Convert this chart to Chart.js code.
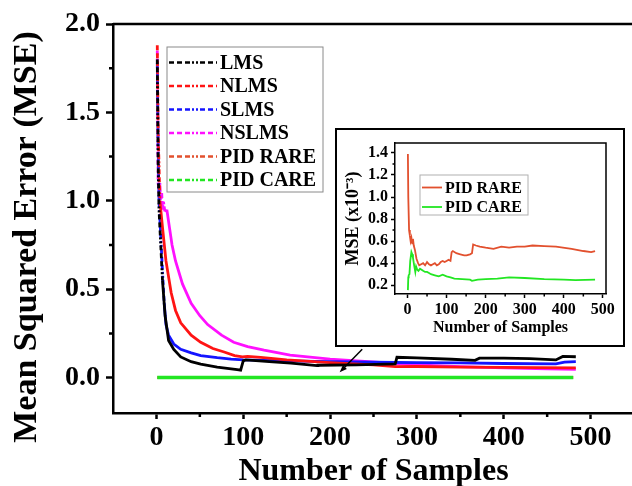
<!DOCTYPE html>
<html>
<head>
<meta charset="utf-8">
<script src="https://cdn.jsdelivr.net/npm/chart.js@4.4.0/dist/chart.umd.min.js"></script>
<style>
  html, body { margin: 0; padding: 0; background: #fff; overflow: hidden; }
  #main  { position: absolute; left: 0; top: 0; width: 640px; height: 486px; }
  #inset { position: absolute; left: 335px; top: 128px; width: 286px; height: 215px;
           border: 2px solid #000; background: #fff; }
</style>
</head>
<body>
<div id="main"><canvas id="main-chart"></canvas></div>
<div id="inset"><canvas id="inset-chart"></canvas></div>
<script>
'use strict';

const SERIF = "'Liberation Serif', 'Times New Roman', serif";

// Main plot series (MSE vs number of samples)
const lmsX = [1, 2, 3, 5, 7, 10, 14, 20, 28, 40, 51, 70, 93, 97, 100, 103, 130, 155, 185, 186, 230, 275, 277, 300, 340, 367, 372, 400, 430, 460, 468, 483];
const lmsY = [1.80, 1.20, 0.95, 0.75, 0.55, 0.35, 0.21, 0.16, 0.117, 0.09, 0.076, 0.06, 0.045, 0.042, 0.095, 0.10, 0.09, 0.082, 0.068, 0.07, 0.072, 0.078, 0.115, 0.112, 0.104, 0.098, 0.11, 0.11, 0.108, 0.10, 0.12, 0.118];

const nlmsX = [1, 2, 4, 7, 11, 17, 22, 28, 40, 51, 65, 78, 90, 99, 105, 120, 150, 200, 250, 275, 300, 350, 400, 483];
const nlmsY = [1.88, 1.40, 1.00, 0.85, 0.66, 0.48, 0.38, 0.31, 0.24, 0.20, 0.165, 0.145, 0.125, 0.117, 0.12, 0.114, 0.10, 0.085, 0.072, 0.062, 0.063, 0.06, 0.058, 0.055];

const slmsX = [1, 2, 3, 5, 7, 9, 11, 14, 20, 28, 40, 51, 70, 86, 100, 150, 200, 250, 300, 350, 400, 460, 470, 483];
const slmsY = [1.78, 1.30, 1.00, 0.80, 0.60, 0.42, 0.30, 0.24, 0.19, 0.16, 0.14, 0.125, 0.113, 0.105, 0.10, 0.095, 0.09, 0.087, 0.085, 0.083, 0.08, 0.078, 0.088, 0.09];

const nslmsX = [1, 2, 3, 4, 5, 6, 7, 8, 10, 12, 15, 18, 22, 30, 40, 50, 59, 75, 89, 105, 124, 154, 200, 231, 275, 300, 350, 400, 450, 483];
const nslmsY = [1.85, 1.10, 1.05, 1.10, 0.98, 1.05, 0.95, 1.00, 0.93, 0.95, 0.85, 0.75, 0.66, 0.53, 0.42, 0.35, 0.30, 0.24, 0.20, 0.175, 0.155, 0.127, 0.105, 0.095, 0.08, 0.072, 0.062, 0.055, 0.05, 0.047];

// PID series, in units of 1e-3 (inset scale)
const rareX = [1, 2, 4, 6, 8, 10, 12, 14, 16, 19, 23, 27, 30, 35, 40, 45, 50, 55, 60, 65, 70, 75, 80, 85, 90, 95, 100, 105, 110, 113, 116, 125, 135, 145, 151, 160, 165, 168, 175, 185, 200, 220, 240, 260, 280, 300, 320, 350, 380, 420, 450, 470, 480];
const rareY = [1.39, 1.00, 0.70, 0.65, 0.60, 0.63, 0.58, 0.62, 0.56, 0.52, 0.44, 0.40, 0.38, 0.39, 0.40, 0.38, 0.41, 0.39, 0.38, 0.39, 0.40, 0.38, 0.39, 0.41, 0.42, 0.41, 0.42, 0.43, 0.42, 0.50, 0.51, 0.49, 0.48, 0.47, 0.47, 0.48, 0.49, 0.57, 0.56, 0.55, 0.54, 0.53, 0.55, 0.54, 0.55, 0.55, 0.56, 0.555, 0.55, 0.53, 0.51, 0.50, 0.51];

const careX = [1, 2, 3, 5, 7, 10, 12, 14, 17, 20, 22, 25, 28, 32, 36, 40, 45, 50, 55, 60, 70, 80, 90, 100, 110, 120, 140, 160, 165, 180, 200, 230, 260, 300, 350, 400, 430, 480];
const careY = [0.155, 0.27, 0.29, 0.30, 0.42, 0.50, 0.48, 0.45, 0.38, 0.32, 0.37, 0.34, 0.33, 0.35, 0.34, 0.33, 0.32, 0.32, 0.31, 0.30, 0.29, 0.28, 0.295, 0.28, 0.27, 0.26, 0.255, 0.25, 0.24, 0.25, 0.255, 0.26, 0.27, 0.265, 0.255, 0.25, 0.245, 0.25];

const mainXTicks  = [0, 100, 200, 300, 400, 500];
const mainYTicks  = [0, 0.5, 1.0, 1.5, 2.0];
const insetXTicks = [0, 100, 200, 300, 400, 500];
const insetYTicks = [0.2, 0.4, 0.6, 0.8, 1.0, 1.2, 1.4];

const COLORS = {
  lms:   '#000000',
  nlms:  '#ff1414',
  slms:  '#1414ff',
  nslms: '#ff10ff',
  rare:  '#e2502e',
  care:  '#22e622',
};

// Origin-style dash-dot-dot, used on the steep start and in the legend
const DASH_DOT = [5, 3, 5, 3, 5, 2, 2, 2, 2, 2];

function pts(xs, ys, k = 1) {
  return xs.map((x, i) => ({ x, y: ys[i] * k }));
}

function fixedTicks(values) {
  return scale => { scale.ticks = values.map(v => ({ value: v })); };
}

// frame on top/right + minor tick marks
const frameTicks = {
  id: 'frameTicks',
  afterDraw(chart, args, o) {
    const { ctx, chartArea: a, scales: { x, y } } = chart;
    ctx.save();
    ctx.strokeStyle = '#000';
    ctx.lineWidth = o.width;
    ctx.beginPath();
    ctx.moveTo(a.left, a.top);
    ctx.lineTo(a.right, a.top);
    ctx.lineTo(a.right, a.bottom);
    ctx.stroke();
    ctx.lineWidth = o.tickWidth;
    ctx.beginPath();
    o.minorX.forEach(v => {
      const px = x.getPixelForValue(v);
      ctx.moveTo(px, a.bottom);
      ctx.lineTo(px, a.bottom + o.minorLen);
    });
    o.minorY.forEach(v => {
      const py = y.getPixelForValue(v);
      ctx.moveTo(a.left, py);
      ctx.lineTo(a.left - o.minorLen, py);
    });
    ctx.stroke();
    ctx.restore();
  },
};

// y title drawn by hand so it can sit lower than the axis centre, as in the original
const yTitle = {
  id: 'yTitle',
  afterDraw(chart, args, o) {
    if (!o.text) return;
    const ctx = chart.ctx;
    ctx.save();
    ctx.translate(o.x, o.y);
    ctx.rotate(-Math.PI / 2);
    ctx.font = o.font;
    ctx.fillStyle = '#000';
    ctx.textAlign = 'center';
    ctx.textBaseline = 'middle';
    ctx.fillText(o.text, 0, 0);
    ctx.restore();
  },
};

const boxLegend = {
  id: 'boxLegend',
  afterDraw(chart, args, o) {
    const ctx = chart.ctx;
    ctx.save();
    ctx.lineWidth = 1;
    ctx.strokeStyle = o.borderColor;
    ctx.strokeRect(o.left, o.top, o.width, o.height);
    ctx.font = o.font;
    ctx.textBaseline = 'middle';
    o.items.forEach((idx, i) => {
      const ds = chart.data.datasets[idx];
      const yy = o.firstRow + i * o.rowGap;
      ctx.strokeStyle = ds.borderColor;
      ctx.lineWidth = o.lineWidth;
      ctx.setLineDash(o.dash);
      ctx.beginPath();
      ctx.moveTo(o.lineX0, yy);
      ctx.lineTo(o.lineX1, yy);
      ctx.stroke();
      ctx.setLineDash([]);
      ctx.fillStyle = '#000';
      ctx.fillText(ds.label, o.textX, yy + 1);
    });
    ctx.restore();
  },
};

const arrow = {
  id: 'arrow',
  afterDraw(chart, args, o) {
    if (!o.from) return;
    const { ctx, scales: { x, y } } = chart;
    const x0 = x.getPixelForValue(o.from[0]), y0 = y.getPixelForValue(o.from[1]);
    const x1 = x.getPixelForValue(o.to[0]),   y1 = y.getPixelForValue(o.to[1]);
    const ang = Math.atan2(y1 - y0, x1 - x0);
    ctx.save();
    ctx.strokeStyle = '#000';
    ctx.fillStyle = '#000';
    ctx.lineWidth = 1.5;
    ctx.beginPath();
    ctx.moveTo(x0, y0);
    ctx.lineTo(x1 - 5 * Math.cos(ang), y1 - 5 * Math.sin(ang));
    ctx.stroke();
    ctx.beginPath();
    ctx.moveTo(x1, y1);
    ctx.lineTo(x1 - 8 * Math.cos(ang - 0.35), y1 - 8 * Math.sin(ang - 0.35));
    ctx.lineTo(x1 - 8 * Math.cos(ang + 0.35), y1 - 8 * Math.sin(ang + 0.35));
    ctx.closePath();
    ctx.fill();
    ctx.restore();
  },
};

function axis(opts) {
  return {
    type: 'linear',
    min: opts.min,
    max: opts.max,
    afterBuildTicks: fixedTicks(opts.ticks),
    afterFit: opts.fit,
    ticks: {
      color: '#000',
      padding: opts.pad,
      maxRotation: 0,
      autoSkip: false,
      font: { family: SERIF, size: opts.tickSize, weight: 'bold' },
      callback: opts.fmt,
    },
    grid: { drawOnChartArea: false, color: '#000', tickLength: opts.tickLen, tickWidth: opts.lw },
    border: { display: true, color: '#000', width: opts.lw },
    title: {
      display: !!opts.title,
      text: opts.title || '',
      color: '#000',
      padding: opts.titlePad,
      font: { family: SERIF, size: opts.titleSize, weight: 'bold', lineHeight: 1 },
    },
  };
}

const lineDs = (label, data, color, width, order, steepUntil) => ({
  label, data,
  borderColor: color,
  backgroundColor: color,
  borderWidth: width,
  pointRadius: 0,
  tension: 0,
  order,
  segment: steepUntil ? { borderDash: c => (c.p0.parsed.x < steepUntil ? DASH_DOT : undefined) } : undefined,
});

new Chart(document.getElementById('main-chart'), {
  type: 'line',
  data: {
    datasets: [
      lineDs('LMS',      pts(lmsX, lmsY),         COLORS.lms,   2.8, 1, 7),
      lineDs('NLMS',     pts(nlmsX, nlmsY),       COLORS.nlms,  2.8, 1, 4),
      lineDs('SLMS',     pts(slmsX, slmsY),       COLORS.slms,  2.8, 1, 9),
      lineDs('NSLMS',    pts(nslmsX, nslmsY),     COLORS.nslms, 2.8, 1, 12),
      lineDs('PID RARE', pts(rareX, rareY, 1e-3), COLORS.rare,  3,   1),
      lineDs('PID CARE', pts(careX, careY, 1e-3), COLORS.care,  3.5, 0),
    ],
  },
  options: {
    responsive: true,
    maintainAspectRatio: false,
    animation: false,
    events: [],
    layout: { padding: { top: 24, right: 6, left: 0, bottom: 0 } },
    scales: {
      x: axis({
        min: -50, max: 550, ticks: mainXTicks, tickSize: 28, pad: 2, tickLen: 6, lw: 2.5,
        title: 'Number of Samples', titleSize: 32, titlePad: { top: 0, bottom: -2 },
        fit: s => { s.height = 73; },
        fmt: v => String(v),
      }),
      y: axis({
        min: -0.2, max: 2.0, ticks: mainYTicks, tickSize: 28, pad: 6, tickLen: 7, lw: 2.5,
        fit: s => { s.width = 113; },
        fmt: v => v.toFixed(1),
      }),
    },
    plugins: {
      legend: { display: false },
      tooltip: { enabled: false },
      frameTicks: { width: 2.5, tickWidth: 2.5, minorLen: 4,
                    minorX: [50, 150, 250, 350, 450], minorY: [0.25, 0.75, 1.25, 1.75] },
      yTitle: { text: 'Mean Squared Error (MSE)', x: 27, y: 237, font: `bold 34px ${SERIF}` },
      boxLegend: {
        left: 167, top: 47, width: 156, height: 145, borderColor: '#8a8a8a',
        items: [0, 1, 2, 3, 4, 5], firstRow: 62.5, rowGap: 23.5,
        lineX0: 169, lineX1: 217, textX: 220, lineWidth: 2.5,
        dash: [5, 3, 5, 3, 5, 2, 2, 2, 2, 2, 5, 3],
        font: `bold 20px ${SERIF}`,
      },
      arrow: { from: [237, 0.16], to: [211, 0.03] },
    },
  },
  plugins: [frameTicks, yTitle, boxLegend, arrow],
});

new Chart(document.getElementById('inset-chart'), {
  type: 'line',
  data: {
    datasets: [
      lineDs('PID RARE', pts(rareX, rareY), COLORS.rare, 1.8, 1),
      lineDs('PID CARE', pts(careX, careY), COLORS.care, 1.8, 0),
    ],
  },
  options: {
    responsive: true,
    maintainAspectRatio: false,
    animation: false,
    events: [],
    layout: { padding: { top: 13, right: 17, left: 0, bottom: 0 } },
    scales: {
      x: axis({
        min: -32, max: 508, ticks: insetXTicks, tickSize: 16, pad: 2, tickLen: 4, lw: 1.5,
        title: 'Number of Samples', titleSize: 16, titlePad: { top: 0, bottom: 9 },
        fit: s => { s.height = 51; },
        fmt: v => String(v),
      }),
      y: axis({
        min: 0.12, max: 1.49, ticks: insetYTicks, tickSize: 16, pad: 3, tickLen: 4, lw: 1.5,
        title: 'MSE (x10\u207B\u00B3)', titleSize: 18, titlePad: { top: 7, bottom: 0 },
        fit: s => { s.width = 58; },
        fmt: v => v.toFixed(1),
      }),
    },
    plugins: {
      legend: { display: false },
      tooltip: { enabled: false },
      frameTicks: { width: 1.5, tickWidth: 1.5, minorLen: 2.5,
                    minorX: [50, 150, 250, 350, 450], minorY: [0.3, 0.5, 0.7, 0.9, 1.1, 1.3] },
      yTitle: {},
      boxLegend: {
        left: 83, top: 45, width: 108, height: 40, borderColor: '#b0b0b0',
        items: [0, 1], firstRow: 57.5, rowGap: 19.5,
        lineX0: 85, lineX1: 105, textX: 108, lineWidth: 1.8, dash: [],
        font: `bold 16px ${SERIF}`,
      },
      arrow: {},
    },
  },
  plugins: [frameTicks, yTitle, boxLegend, arrow],
});
</script>
</body>
</html>
